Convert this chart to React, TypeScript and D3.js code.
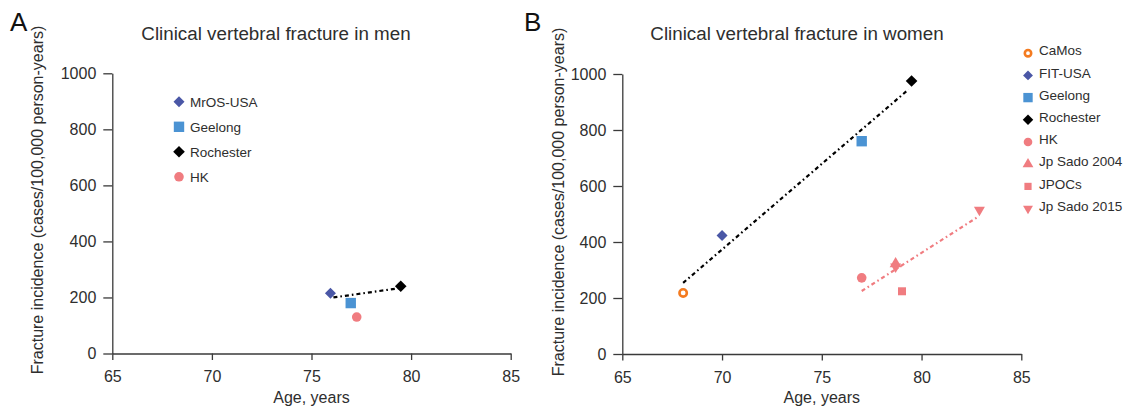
import React, { useEffect, useRef } from "react";
import * as d3 from "d3";

const width = 1126;
const height = 409;
const font = "'Liberation Sans', Arial, Helvetica, sans-serif";
const ink = "#2e2e2e";

const ageTicks = [65, 70, 75, 80, 85];
const incidenceTicks = [0, 200, 400, 600, 800, 1000];

// panel A - men
const menStudies = ["MrOS-USA", "Geelong", "Rochester", "HK"];
const menPointStudy = [0, 1, 2, 3];
const menAge = [75.95, 76.97, 79.48, 77.27];
const menIncidence = [215, 180, 240, 130];
const menTrendAge = [76.1, 79.4];
const menTrendIncidence = [200, 233];

// panel B - women
const womenStudies = ["CaMos", "FIT-USA", "Geelong", "Rochester", "HK", "Jp Sado 2004", "JPOCs", "Jp Sado 2015"];
const womenPointStudy = [0, 1, 2, 3, 4, 5, 7, 6, 7];
const womenAge = [68.05, 70, 77, 79.5, 77, 78.7, 78.7, 79.02, 82.9];
const womenIncidence = [218, 423, 760, 975, 272, 322, 312, 224, 515];
const womenTrendWestAge = [68.05, 79.35];
const womenTrendWestIncidence = [254, 945];
const womenTrendAsiaAge = [77, 82.83];
const womenTrendAsiaIncidence = [225, 490];

const blue = "#4a57a6";
const lightBlue = "#4b93d3";
const pink = "#f07c80";
const orange = "#f47b20";

const markerStyle = {
  "CaMos": { shape: "ring", color: orange, r: 5 },
  "MrOS-USA": { shape: "diamond", color: blue, r: 5.5 },
  "FIT-USA": { shape: "diamond", color: blue, r: 5.5 },
  "Geelong": { shape: "square", color: lightBlue, r: 5.2 },
  "Rochester": { shape: "diamond", color: "#000", r: 5.8 },
  "HK": { shape: "circle", color: pink, r: 4.8 },
  "Jp Sado 2004": { shape: "triangle", color: pink, r: 6 },
  "JPOCs": { shape: "square", color: pink, r: 4 },
  "Jp Sado 2015": { shape: "triangleDown", color: pink, r: 5.5 },
};

function drawMarker(g, study, cx, cy, scale = 1) {
  const s = markerStyle[study];
  const r = s.r * scale;
  if (s.shape === "ring") {
    g.append("circle").attr("cx", cx).attr("cy", cy).attr("r", r - 1.3)
      .attr("fill", "#fff").attr("stroke", s.color).attr("stroke-width", 2.6);
    return;
  }
  let type = d3.symbolCircle, size = Math.PI * r * r, rot = 0;
  if (s.shape === "diamond") { type = d3.symbolSquare; size = 2 * r * r; rot = 45; }
  if (s.shape === "square") { type = d3.symbolSquare; size = 4 * r * r; }
  if (s.shape === "triangle") { type = d3.symbolTriangle; size = Math.sqrt(3) * r * r; }
  if (s.shape === "triangleDown") { type = d3.symbolTriangle; size = Math.sqrt(3) * r * r; rot = 180; }
  g.append("path")
    .attr("d", d3.symbol().type(type).size(size)())
    .attr("transform", `translate(${cx},${cy}) rotate(${rot})`)
    .attr("fill", s.color);
}

const panels = [
  {
    letter: "A", letterX: 10, title: "Clinical vertebral fracture in men", titleX: 276,
    x0: 112.3, x1: 510.7, y0: 353.5, y1: 73.3, yLabelX: 43, yLabelY: 200,
    studies: menStudies, pointStudy: menPointStudy, age: menAge, incidence: menIncidence,
    trends: [{ age: menTrendAge, incidence: menTrendIncidence, color: "#000" }],
    legendX: 179, legendY: 101.8, legendStep: 25, legendMarkerDy: 0, legendScale: 1,
  },
  {
    letter: "B", letterX: 524, title: "Clinical vertebral fracture in women", titleX: 797,
    x0: 622.3, x1: 1021.3, y0: 354, y1: 74, yLabelX: 564, yLabelY: 202,
    studies: womenStudies, pointStudy: womenPointStudy, age: womenAge, incidence: womenIncidence,
    trends: [
      { age: womenTrendWestAge, incidence: womenTrendWestIncidence, color: "#000" },
      { age: womenTrendAsiaAge, incidence: womenTrendAsiaIncidence, color: pink },
    ],
    legendX: 1028, legendY: 50.7, legendStep: 22.2, legendMarkerDy: 2.5, legendScale: 0.9,
  },
];

export default function App() {
  const svgRef = useRef(null);

  useEffect(() => {
    const svg = d3.select(svgRef.current);
    svg.selectAll("*").remove();

    panels.forEach(p => {
      const x = d3.scaleLinear().domain([65, 85]).range([p.x0, p.x1]);
      const y = d3.scaleLinear().domain([0, 1000]).range([p.y0, p.y1]);
      const g = svg.append("g").attr("font-family", font);

      g.append("text").attr("x", p.letterX).attr("y", 31)
        .attr("font-size", 26).attr("fill", "#111").text(p.letter);

      g.append("text").attr("x", p.titleX).attr("y", 40)
        .attr("text-anchor", "middle").attr("font-size", 18.8).attr("fill", ink).text(p.title);

      const xAxis = g.append("g")
        .attr("transform", `translate(0,${p.y0})`)
        .call(d3.axisBottom(x).tickValues(ageTicks).tickSize(6.5).tickSizeOuter(0).tickPadding(6));
      const yAxis = g.append("g")
        .attr("transform", `translate(${p.x0},0)`)
        .call(d3.axisLeft(y).tickValues(incidenceTicks).tickFormat(d3.format("d"))
          .tickSize(9).tickSizeOuter(0).tickPadding(7));
      [xAxis, yAxis].forEach(a => {
        a.attr("font-family", font).attr("font-size", 16);
        a.selectAll("path, line").attr("stroke", "#3a3a3a").attr("stroke-width", 1.3);
        a.selectAll("text").attr("fill", ink);
      });
      xAxis.selectAll("text").attr("dy", "1em");

      g.append("text").attr("x", (p.x0 + p.x1) / 2).attr("y", 403)
        .attr("text-anchor", "middle").attr("font-size", 16).attr("fill", ink).text("Age, years");

      g.append("text")
        .attr("transform", `translate(${p.yLabelX},${p.yLabelY}) rotate(-90)`)
        .attr("text-anchor", "middle").attr("font-size", 16).attr("fill", ink)
        .text("Fracture incidence (cases/100,000 person-years)");

      const line = d3.line().x(d => x(d[0])).y(d => y(d[1]));
      p.trends.forEach(t => {
        g.append("path")
          .attr("d", line(d3.zip(t.age, t.incidence)))
          .attr("fill", "none").attr("stroke", t.color).attr("stroke-width", 2.2)
          .attr("stroke-dasharray", "4,3,1.6,3");
      });

      const marks = g.append("g");
      p.age.forEach((a, i) => {
        drawMarker(marks, p.studies[p.pointStudy[i]], x(a), y(p.incidence[i]));
      });

      const legend = g.append("g").attr("font-size", 13.5).attr("fill", ink);
      p.studies.forEach((s, i) => {
        const ly = p.legendY + i * p.legendStep;
        drawMarker(legend, s, p.legendX, ly + p.legendMarkerDy, p.legendScale);
        legend.append("text").attr("x", p.legendX + 11).attr("y", ly)
          .attr("dy", "0.35em").text(s);
      });
    });
  }, []);

  return (
    <svg ref={svgRef} width={width} height={height}
      style={{ position: "absolute", left: 0, top: 0, background: "#fff" }} />
  );
}
